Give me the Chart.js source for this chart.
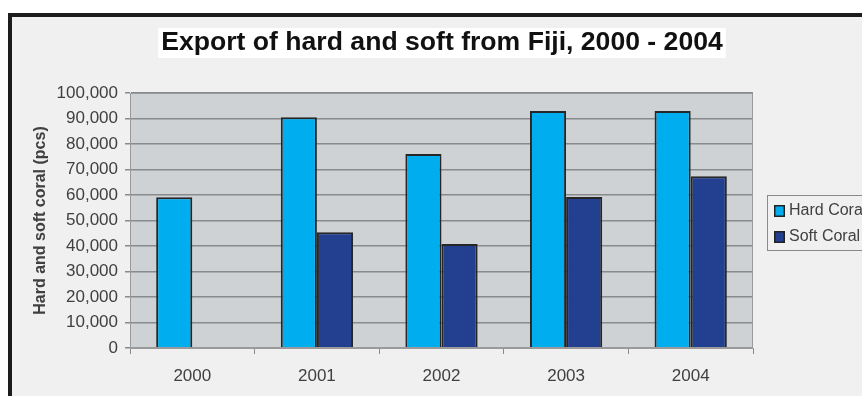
<!DOCTYPE html>
<html>
<head>
<meta charset="utf-8">
<script src="https://cdn.jsdelivr.net/npm/chart.js@4.4.1/dist/chart.umd.min.js"></script>
<style>
  html, body { margin: 0; padding: 0; background: #ffffff; }
  #wrap { position: absolute; left: 0; top: 0; width: 862px; height: 396px; }
</style>
</head>
<body>
<div id="wrap"><canvas id="c" width="862" height="396"></canvas></div>
<script>
const TITLE = 'Export of hard and soft from Fiji, 2000 - 2004';
const Y_TITLE = 'Hard and soft coral (pcs)';
const categories = ['2000', '2001', '2002', '2003', '2004'];
const seriesNames = ['Hard Coral', 'Soft Coral'];
const hardCoral = [59100, 90500, 76100, 92900, 92900];
const softCoral = [null, 45400, 40800, 59200, 67400];
const yMin = 0;
const yMax = 100000;
const yStep = 10000;

const FRAME_BG = '#f0f0f0';
const PLOT_BG = '#ced2d5';
const GRID = '#888a8c';
const TEXT = '#404040';
const FONT = "'Liberation Sans', Arial, sans-serif";

const framePlugin = {
  id: 'frame',
  beforeDraw(chart) {
    const ctx = chart.ctx;
    const a = chart.chartArea;
    ctx.save();
    ctx.fillStyle = '#ffffff';
    ctx.fillRect(0, 0, chart.width, chart.height);
    ctx.fillStyle = FRAME_BG;
    ctx.fillRect(8, 13, chart.width - 8, chart.height - 13);
    ctx.fillStyle = '#1c1c1c';
    ctx.fillRect(8, 13, chart.width - 8, 4);
    ctx.fillRect(8, 13, 4, chart.height - 13);
    // plot background
    ctx.fillStyle = PLOT_BG;
    ctx.fillRect(a.left, a.top, a.right - a.left, a.bottom - a.top);
    // title
    ctx.font = 'bold 26.6px ' + FONT;
    const w = ctx.measureText(TITLE).width;
    const cx = 442;
    ctx.fillStyle = '#ffffff';
    ctx.fillRect(cx - w / 2 - 3, 28, w + 6, 30);
    ctx.fillStyle = '#111111';
    ctx.textAlign = 'center';
    ctx.textBaseline = 'middle';
    ctx.fillText(TITLE, cx, 43);
    ctx.restore();
  },
  afterDraw(chart) {
    const ctx = chart.ctx;
    const a = chart.chartArea;
    ctx.save();
    // plot border
    ctx.strokeStyle = '#9a9a9a';
    ctx.lineWidth = 1;
    ctx.strokeRect(a.left + 0.5, a.top + 0.5, a.right - a.left - 1, a.bottom - a.top - 1);
    // legend
    const lx = 767, ly = 195;
    ctx.fillStyle = FRAME_BG;
    ctx.fillRect(lx, ly, 140, 55);
    ctx.strokeStyle = '#8a8a8a';
    ctx.lineWidth = 1;
    ctx.strokeRect(lx + 0.5, ly + 0.5, 140, 55);
    const rowsY = [211, 237];
    ctx.font = '16px ' + FONT;
    ctx.textBaseline = 'middle';
    ctx.textAlign = 'left';
    chart.data.datasets.forEach((ds, i) => {
      const y = rowsY[i];
      ctx.fillStyle = '#222222';
      ctx.fillRect(774, y - 6, 11, 12);
      ctx.fillStyle = ds.backgroundColor;
      ctx.fillRect(775.5, y - 4.5, 8, 9);
      ctx.fillStyle = TEXT;
      ctx.fillText(ds.label, 789, y);
    });
    ctx.restore();
  }
};

new Chart(document.getElementById('c'), {
  type: 'bar',
  data: {
    labels: categories,
    datasets: [
      { label: seriesNames[0], data: hardCoral, backgroundColor: '#00aeef', borderColor: '#262626', borderWidth: 2 },
      { label: seriesNames[1], data: softCoral, backgroundColor: '#233f8f', borderColor: '#262626', borderWidth: 2 }
    ]
  },
  plugins: [framePlugin],
  options: {
    responsive: false,
    animation: false,
    devicePixelRatio: 1,
    layout: { padding: { left: 0, right: 109, top: 93, bottom: 0 } },
    datasets: { bar: { categoryPercentage: 0.58, barPercentage: 1.0 } },
    plugins: {
      legend: { display: false },
      title: { display: false },
      tooltip: { enabled: false }
    },
    scales: {
      x: {
        offset: true,
        afterFit(scale) { scale.height = 48; },
        grid: { offset: true, drawOnChartArea: false, drawTicks: true, tickLength: 6, color: GRID, lineWidth: 1 },
        border: { display: true, color: '#9a9a9a' },
        ticks: { color: TEXT, font: { family: FONT, size: 17 }, padding: 12 }
      },
      y: {
        min: yMin,
        max: yMax,
        afterFit(scale) { scale.width = 130; },
        grid: { color: GRID, lineWidth: 1.5, tickLength: 5, drawTicks: true },
        border: { display: true, color: '#9a9a9a' },
        ticks: {
          stepSize: yStep,
          color: TEXT,
          padding: 7,
          font: { family: FONT, size: 17 },
          callback: (v) => Number(v).toLocaleString('en-US')
        },
        title: {
          display: true,
          text: Y_TITLE,
          color: TEXT,
          font: { family: FONT, size: 16, weight: 'bold' },
          padding: { top: 31, bottom: 0 }
        }
      }
    }
  }
});
</script>
</body>
</html>
